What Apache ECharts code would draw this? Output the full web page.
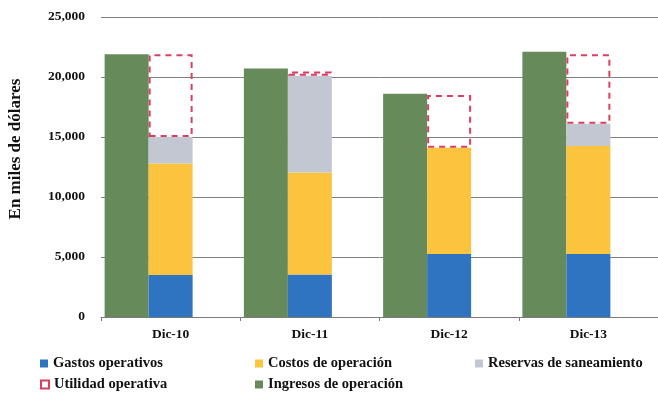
<!DOCTYPE html>
<html>
<head>
<meta charset="utf-8">
<script src="https://cdn.jsdelivr.net/npm/echarts@6/dist/echarts.min.js"></script>
<style>
  html, body { margin: 0; padding: 0; background: #ffffff; }
  #chart { width: 658px; height: 394px; }
</style>
</head>
<body>
<div id="chart"></div>
<script>
// Year-end figures, thousands of dollars
const categories = ['Dic-10', 'Dic-11', 'Dic-12', 'Dic-13'];
const ingresos = [21900, 20700, 18600, 22100];   // Ingresos de operación
const gastos = [3500, 3550, 5250, 5250];          // Gastos operativos
const costos = [9300, 8500, 8850, 9000];          // Costos de operación
const reservas = [2200, 8050, 0, 1850];           // Reservas de saneamiento
const utilidad = [6900, 350, 4400, 5800];         // Utilidad operativa
const yTicks = { min: 0, max: 25000, interval: 5000 };

const FONT = '"Liberation Serif", "DejaVu Serif", serif';
const textStyle = { fontFamily: FONT, fontWeight: 'bold', fontSize: 13.5, color: '#111' };

const chart = echarts.init(document.getElementById('chart'), null, { renderer: 'canvas' });

const BAR_W = 44;

function legendAt(name, left, top) {
  return {
    data: [name], left: left, top: top, itemWidth: 8, itemHeight: 8, itemGap: 4,
    textStyle: Object.assign({}, textStyle, { fontSize: 14.5 }),
    icon: 'rect', selectedMode: false, padding: 0
  };
}

chart.setOption({
  animation: false,
  backgroundColor: '#ffffff',
  grid: { left: 101, top: 17, width: 560, height: 300 },
  legend: [
    legendAt('Gastos operativos', 40, 356),
    legendAt('Costos de operación', 255, 356),
    legendAt('Reservas de saneamiento', 475, 356),
    legendAt('Utilidad operativa', 40, 377),
    legendAt('Ingresos de operación', 255, 377)
  ],
  graphic: [{
    type: 'text',
    x: 16, y: 149,
    rotation: Math.PI / 2,
    style: {
      text: 'En miles de dólares',
      font: 'bold 17px ' + FONT,
      fill: '#111',
      align: 'center',
      verticalAlign: 'middle'
    }
  }],
  xAxis: {
    type: 'category',
    data: categories,
    axisLine: { lineStyle: { color: '#7a7a7a', width: 1 } },
    axisTick: { show: true, length: 4, lineStyle: { color: '#7a7a7a' } },
    axisLabel: Object.assign({ margin: 11 }, textStyle)
  },
  yAxis: {
    type: 'value',
    min: yTicks.min, max: yTicks.max, interval: yTicks.interval,
    axisLine: { show: false },
    axisTick: { show: false },
    splitLine: { lineStyle: { color: '#7f7f7f', width: 1 } },
    axisLabel: Object.assign({
      margin: 16,
      formatter: v => v.toLocaleString('en-US')
    }, textStyle)
  },
  series: [
    {
      name: 'Ingresos de operación', type: 'bar', data: ingresos,
      barWidth: BAR_W, barGap: '0%',
      itemStyle: { color: '#678A5A' }
    },
    {
      name: 'Gastos operativos', type: 'bar', stack: 'uso', data: gastos,
      barWidth: BAR_W, barGap: '0%',
      itemStyle: { color: '#2F74C0' }
    },
    {
      name: 'Costos de operación', type: 'bar', stack: 'uso', data: costos,
      barWidth: BAR_W, barGap: '0%',
      itemStyle: { color: '#FCC43E' }
    },
    {
      name: 'Reservas de saneamiento', type: 'bar', stack: 'uso', data: reservas,
      barWidth: BAR_W, barGap: '0%',
      itemStyle: { color: '#C3C7D1' }
    },
    {
      name: 'Utilidad operativa', type: 'bar', stack: 'uso', data: utilidad,
      barWidth: BAR_W, barGap: '0%',
      itemStyle: {
        color: 'rgba(255,255,255,0)',
        borderColor: '#DB3F5F', borderWidth: 2, borderType: [6, 5]
      }
    },
    {
      // empty third slot so each pair sits left of the category centre
      name: 'hueco', type: 'bar', data: [], barWidth: BAR_W, barGap: '0%',
      silent: true
    }
  ]
});
</script>
</body>
</html>
